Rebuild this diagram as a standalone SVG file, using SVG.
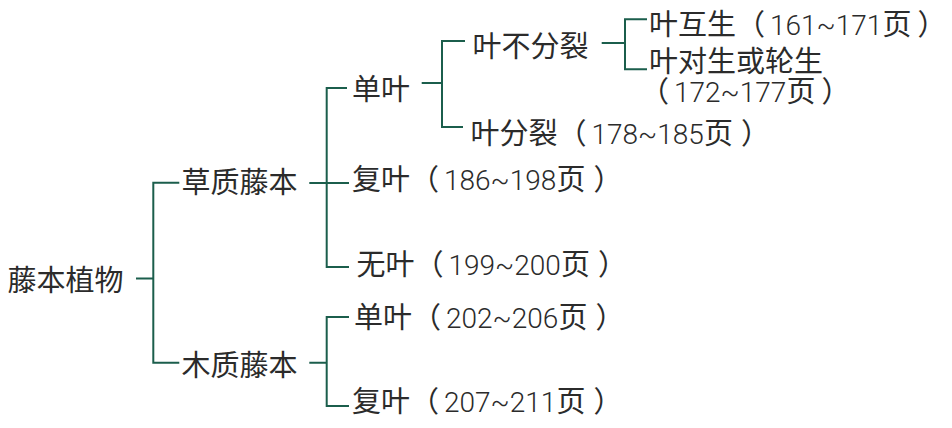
<svg xmlns="http://www.w3.org/2000/svg" width="952" height="428" viewBox="0 0 952 428">
<style>
text{font-family:"Noto Sans CJK SC","Noto Sans",sans-serif;font-size:29px;fill:#2b2b2b;}
.n{font-family:"Roboto","Liberation Sans","Noto Sans CJK SC",sans-serif;font-size:28px;font-weight:300;}
.c{fill:none;stroke:#1b5e4c;stroke-width:2;}
</style>
<rect width="952" height="428" fill="#ffffff"/>
<g id="connectors">
<path class="c" d="M136,278.5H153.3M179.3,182.7H153.3V362.7H179.3"/>
<path class="c" d="M309.3,183H349M347,88H326.7V267H349"/>
<path class="c" d="M309.3,362.7H326.7M349,317H326.7V406H349"/>
<path class="c" d="M421.7,83H442M465,41H442V127H463"/>
<path class="c" d="M601.7,43H625M647,19.3H625V69.3H647"/>
</g>
<g id="n-root"><text x="7.5" y="291">藤本植物</text></g>
<g id="n-herb"><text x="181.5" y="193">草质藤本</text></g>
<g id="n-wood"><text x="181.5" y="376">木质藤本</text></g>
<g id="n-single"><text x="352" y="100">单叶</text></g>
<g id="n-undivided"><text x="472.5" y="57">叶不分裂</text></g>
<g id="n-alternate"><text x="649" y="34.5">叶互生（<tspan class="n" dx="5">161~171</tspan>页<tspan dx="6">）</tspan></text></g>
<g id="n-opposite"><text x="649" y="72">叶对生或轮生<tspan x="640" y="101.5">（</tspan><tspan class="n" dx="5">172~177</tspan>页<tspan dx="6">）</tspan></text></g>
<g id="n-divided"><text x="470.5" y="144">叶分裂（<tspan class="n" dx="5">178~185</tspan>页<tspan dx="8">）</tspan></text></g>
<g id="n-compound"><text x="352" y="190">复叶（<tspan class="n" dx="5">186~198</tspan>页<tspan dx="8">）</tspan></text></g>
<g id="n-leafless"><text x="356.5" y="274.5">无叶（<tspan class="n" dx="5">199~200</tspan>页<tspan dx="8">）</tspan></text></g>
<g id="n-wsingle"><text x="354" y="327.5">单叶（<tspan class="n" dx="5">202~206</tspan>页<tspan dx="8">）</tspan></text></g>
<g id="n-wcompound"><text x="352" y="412">复叶（<tspan class="n" dx="5">207~211</tspan>页<tspan dx="8">）</tspan></text></g>
</svg>
